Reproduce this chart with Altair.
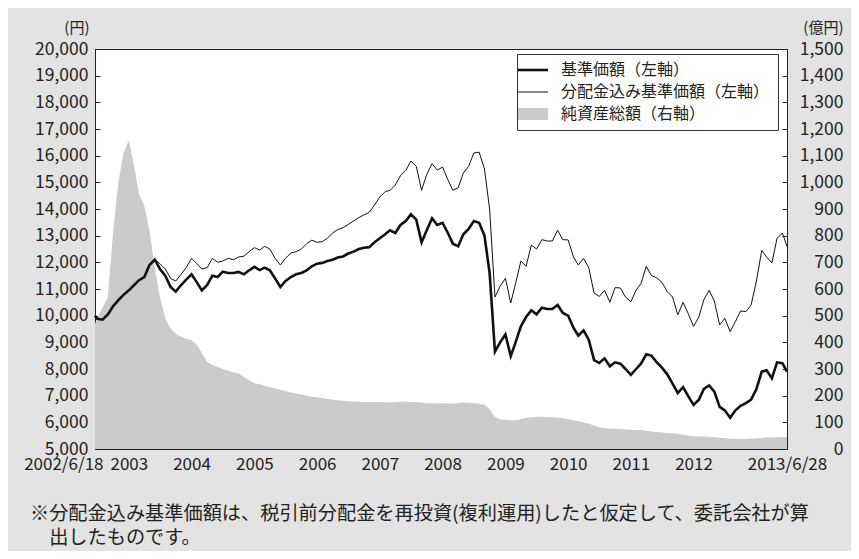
import altair as alt
import pandas as pd

# ---- data ----
month_starts = pd.date_range("2002-07-01", "2013-06-01", freq="MS").strftime("%Y-%m-%d").tolist()
dates = ["2002-06-18"] + month_starts + ["2013-06-28"]

# 基準価額 (円)
nav = (
    [10000]
    + [9880, 9850, 10050, 10350, 10580, 10780]
    + [10950, 11150, 11330, 11450, 11900, 12100, 11750, 11500, 11075, 10900, 11150, 11350]
    + [11550, 11250, 10950, 11150, 11500, 11450, 11650, 11600, 11600, 11640, 11550, 11700]
    + [11830, 11710, 11800, 11700, 11400, 11075, 11300, 11450, 11550, 11600, 11700, 11850]
    + [11950, 11980, 12050, 12100, 12180, 12220, 12330, 12400, 12500, 12550, 12570, 12750]
    + [12900, 13050, 13200, 13100, 13400, 13550, 13800, 13600, 12750, 13200, 13650, 13400]
    + [13480, 13100, 12700, 12600, 13050, 13250, 13550, 13480, 13000, 11600, 8650, 9000]
    + [9300, 8480, 9000, 9600, 9950, 10200, 10050, 10300, 10250, 10250, 10400, 10100]
    + [10000, 9550, 9250, 9450, 9100, 8330, 8230, 8400, 8100, 8250, 8200, 8000]
    + [7780, 8000, 8200, 8550, 8500, 8250, 8050, 7800, 7450, 7100, 7320, 6980]
    + [6650, 6850, 7250, 7380, 7150, 6580, 6450, 6170, 6450, 6620, 6720, 6850]
    + [7250, 7900, 7950, 7650, 8250, 8220]
    + [7900]
)

# 分配金込み基準価額 (円)
nav_div = (
    [10000]
    + [9880, 9850, 10050, 10350, 10580, 10780]
    + [10950, 11150, 11330, 11450, 11900, 12100, 11950, 11750, 11400, 11300, 11550, 11800]
    + [12150, 11950, 11750, 11800, 12150, 12000, 12050, 12150, 12100, 12200, 12230, 12400]
    + [12550, 12460, 12600, 12500, 12150, 11900, 12150, 12350, 12400, 12500, 12700, 12830]
    + [12750, 12780, 12900, 13100, 13230, 13300, 13420, 13550, 13680, 13780, 13880, 14150]
    + [14450, 14650, 14700, 14900, 15250, 15450, 15800, 15600, 14700, 15300, 15700, 15460]
    + [15570, 15100, 14700, 14800, 15350, 15600, 16100, 16130, 15500, 14000, 10700, 11100]
    + [11400, 10480, 11200, 12050, 11850, 12650, 12500, 12850, 12800, 12800, 13200, 12850]
    + [12840, 12200, 11900, 12150, 11800, 10850, 10720, 10950, 10500, 11050, 11040, 10700]
    + [10520, 10960, 11200, 11850, 11500, 11420, 11250, 10900, 10700, 10030, 10500, 10080]
    + [9600, 9950, 10600, 10950, 10550, 9650, 9900, 9400, 9780, 10180, 10150, 10400]
    + [11300, 12450, 12200, 11980, 12900, 13100]
    + [12600]
)

# 純資産総額 (億円)
assets = (
    [470]
    + [490, 530, 570, 810, 1000, 1110]
    + [1158, 1060, 955, 912, 820, 680, 570, 490, 452, 432, 421, 413]
    + [408, 390, 360, 326, 315, 308, 300, 293, 287, 283, 270, 258]
    + [247, 243, 237, 232, 228, 222, 217, 212, 208, 204, 200, 196]
    + [194, 191, 188, 185, 183, 181, 179, 178, 177, 176, 176, 176]
    + [176, 175, 174, 176, 177, 177, 176, 175, 174, 172, 172, 171]
    + [172, 172, 170, 172, 174, 173, 172, 170, 166, 150, 120, 112]
    + [110, 108, 108, 112, 116, 119, 121, 121, 120, 119, 117, 115]
    + [112, 108, 104, 100, 95, 88, 82, 78, 77, 76, 75, 73]
    + [72, 71, 71, 68, 66, 64, 62, 60, 59, 56, 53, 50]
    + [48, 47, 47, 45, 44, 42, 40, 38, 38, 37, 38, 39]
    + [40, 41, 43, 43, 44, 44]
    + [44]
)

NAV = "基準価額（左軸）"
NAVD = "分配金込み基準価額（左軸）"
AST = "純資産総額（右軸）"
series_names = [NAV, NAVD, AST]

left_ticks = list(range(5000, 20001, 1000))
right_ticks = list(range(0, 1501, 100))
x_years = list(range(2003, 2013))

footnote = [
    "※分配金込み基準価額は、税引前分配金を再投資(複利運用)したと仮定して、委託会社が算",
    "\u200b\u3000出したものです。",
]

df_lines = pd.DataFrame({
    "date": dates * 2,
    "series": [NAV] * len(dates) + [NAVD] * len(dates),
    "value": nav + nav_div,
})
df_area = pd.DataFrame({"date": dates, "series": AST, "value": assets})

# ---- styling ----
FONT = "Noto Sans CJK JP"
INK = "#222222"
AREA = "#cbcbcb"
INWARD = {"expr": "-5"}

x_vals = (
    [alt.DateTime(year=2002, month=6, date=18, utc=True)]
    + [alt.DateTime(year=y, month=1, date=1, utc=True) for y in x_years]
    + [alt.DateTime(year=2013, month=6, date=28, utc=True)]
)

x_axis = alt.Axis(
    values=x_vals,
    labelExpr="utcmonth(datum.value) == 0 && utcdate(datum.value) == 1 ? utcFormat(datum.value, '%Y') : utcFormat(datum.value, '%Y/%-m/%-d')",
    labelAlign={"condition": {"test": "utcyear(datum.value) == 2002", "value": "right"}, "value": "center"},
    labelOffset={"condition": {"test": "utcyear(datum.value) == 2002", "value": 8}, "value": 0},
    tickSize=INWARD, labelPadding=12, title=None, grid=False,
    labelFont=FONT, labelFontSize=17, labelColor=INK,
    domainColor=INK, tickColor=INK, labelOverlap=False, labelBound=False,
)
x_enc = alt.X(
    "date:T",
    scale=alt.Scale(domain=[x_vals[0], x_vals[-1]], nice=False),
    axis=x_axis,
)

color_scale = alt.Scale(domain=series_names, range=["#111111", "#111111", AREA])
legend = alt.Legend(
    orient="none", legendX=422, legendY=5, title=None, direction="vertical",
    labelFont=FONT, labelFontSize=16, labelColor=INK, labelOffset=20, labelLimit=400,
    symbolSize=900,
    symbolType={"expr": f"datum.value == '{AST}' ? 'M-1,-0.4H1V0.4H-1Z' : 'stroke'"},
    symbolStrokeWidth={"expr": f"datum.value == '{NAV}' ? 2.6 : (datum.value == '{AST}' ? 0 : 1)"},
    symbolFillColor={"expr": f"datum.value == '{AST}' ? '{AREA}' : 'transparent'"},
    symbolStrokeColor={"expr": f"datum.value == '{AST}' ? '{AREA}' : '#111111'"},
    strokeColor="#333333", fillColor="white", padding=8, rowPadding=6,
)

area = alt.Chart(df_area).mark_area(color=AREA, interpolate="linear").encode(
    x=x_enc,
    y=alt.Y(
        "value:Q",
        scale=alt.Scale(domain=[0, 1500], nice=False, zero=True),
        axis=alt.Axis(
            orient="right", values=right_ticks, format=",d", grid=False,
            title="(億円)", titleAngle=0, titleAlign="right", titleBaseline="bottom",
            titleX=56, titleY=-14, titleFont=FONT, titleFontSize=15,
            titleFontWeight="normal", titleColor=INK,
            tickSize=INWARD, labelPadding=61, labelAlign="right",
            labelFont=FONT, labelFontSize=17.5, labelColor=INK,
            domainColor=INK, tickColor=INK,
        ),
    ),
    color=alt.Color("series:N", scale=color_scale, legend=legend),
)

lines = alt.Chart(df_lines).mark_line(interpolate="linear").encode(
    x=x_enc,
    y=alt.Y(
        "value:Q",
        scale=alt.Scale(domain=[5000, 20000], nice=False, zero=False),
        axis=alt.Axis(
            orient="left", values=left_ticks, format=",d", grid=False,
            title="(円)", titleAngle=0, titleAlign="right", titleBaseline="bottom",
            titleX=-6, titleY=-14, titleFont=FONT, titleFontSize=15,
            titleFontWeight="normal", titleColor=INK,
            tickSize=INWARD, labelPadding=12,
            labelFont=FONT, labelFontSize=17.5, labelColor=INK,
            domainColor=INK, tickColor=INK,
        ),
    ),
    color=alt.Color("series:N", scale=color_scale, legend=legend),
    strokeWidth=alt.StrokeWidth(
        "series:N", scale=alt.Scale(domain=[NAV, NAVD], range=[2.6, 1.0]), legend=None
    ),
    detail="series:N",
)

chart = (
    alt.layer(area, lines)
    .resolve_scale(y="independent")
    .properties(
        width=692,
        height=400,
        autosize=alt.AutoSizeParams(type="none"),
        padding={"left": 87, "top": 41, "right": 64, "bottom": 102},
        background="#e3e3e3",
        title=alt.TitleParams(
            text=footnote, orient="bottom", anchor="start", frame="group",
            dx=-65, offset=33, font=FONT, fontSize=19.2, fontWeight="normal",
            color=INK, lineHeight=24, baseline="top",
        ),
    )
    .configure_view(fill="white", stroke=INK, strokeWidth=1)
)

chart.save("out.html", embed_options={"renderer": "svg", "actions": False})
